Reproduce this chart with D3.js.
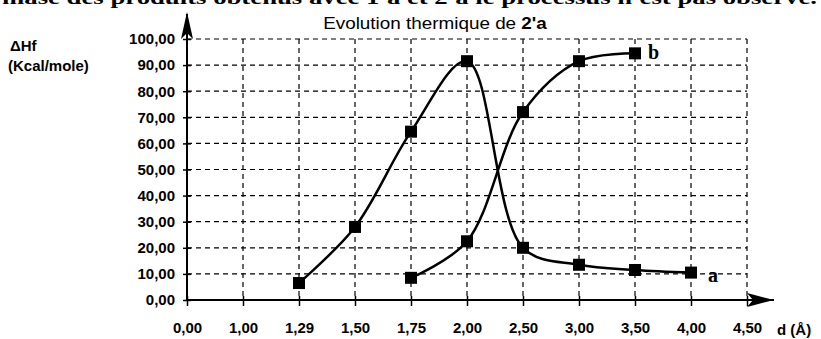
<!DOCTYPE html>
<html>
<head>
<meta charset="utf-8">
<script src="https://cdn.jsdelivr.net/npm/d3@7"></script>
<style>
body { margin: 0; background: #fff; }
svg text { font-family: "Liberation Sans", Arial, sans-serif; }
.tick-label { font-weight: bold; font-size: 15px; }
</style>
</head>
<body>
<div id="chart"></div>
<script>
// chart data
var categories = ["0,00", "1,00", "1,29", "1,50", "1,75", "2,00", "2,50", "3,00", "3,50", "4,00", "4,50"];
var yTicks = [0, 10, 20, 30, 40, 50, 60, 70, 80, 90, 100];
var seriesAx = ["1,29", "1,50", "1,75", "2,00", "2,50", "3,00", "3,50", "4,00"];
var seriesAy = [6.5, 28, 64.5, 91.5, 20, 13.5, 11.5, 10.5];
var seriesBx = ["1,75", "2,00", "2,50", "3,00", "3,50"];
var seriesBy = [8.5, 22.5, 72, 91.5, 94.5];

var svgWidth = 821;
var svgHeight = 339;
var margin = { left: 187, top: 39, right: 74, bottom: 39 };
var width = svgWidth - margin.left - margin.right;
var height = svgHeight - margin.top - margin.bottom;

var svg = d3.select("#chart").append("svg")
    .attr("width", svgWidth)
    .attr("height", svgHeight);

// cut off line of the page above the chart
svg.append("text")
    .attr("x", 2).attr("y", 4)
    .style("font-family", "'Liberation Serif', serif")
    .attr("font-weight", "bold")
    .attr("font-size", 18)
    .attr("textLength", 815)
    .attr("lengthAdjust", "spacingAndGlyphs")
    .text("mase des produits obtenus avec 1'a et 2'a le processus n'est pas observé.");

var g = svg.append("g").attr("transform", `translate(${margin.left}, ${margin.top})`);

var x = d3.scalePoint().domain(categories).range([0, width]);
var y = d3.scaleLinear().domain([0, 100]).range([height, 0]);

// grid
g.selectAll(".hgrid").data(yTicks.slice(1)).enter().append("line")
    .attr("x1", 0).attr("x2", width)
    .attr("y1", d => y(d)).attr("y2", d => y(d))
    .attr("stroke", "#000").attr("stroke-width", 1.2)
    .attr("stroke-dasharray", "5,4");

g.selectAll(".vgrid").data(categories.slice(1)).enter().append("line")
    .attr("x1", d => x(d)).attr("x2", d => x(d))
    .attr("y1", 0).attr("y2", height)
    .attr("stroke", "#000").attr("stroke-width", 1.2)
    .attr("stroke-dasharray", "5,4");

// axes with arrows
g.append("line")
    .attr("x1", 0).attr("y1", height).attr("x2", width + 27).attr("y2", height)
    .attr("stroke", "#000").attr("stroke-width", 2);
g.append("path")
    .attr("d", `M${width + 27},${height} L${width},${height - 7} L${width + 6},${height} L${width},${height + 7} Z`)
    .attr("fill", "#000");

g.append("line")
    .attr("x1", 0).attr("y1", height).attr("x2", 0).attr("y2", -25)
    .attr("stroke", "#000").attr("stroke-width", 2);
g.append("path")
    .attr("d", `M0,-27 L-6,0 L0,-6 L6,0 Z`)
    .attr("fill", "#000");

// ticks
var yAxis = d3.axisLeft(y).tickValues(yTicks).tickSize(0).tickPadding(12)
    .tickFormat(d => d3.format(".2f")(d).replace(".", ","));
var yg = g.append("g").call(yAxis);
yg.select(".domain").remove();
yg.selectAll("text").attr("class", "tick-label").attr("fill", "#000");
yg.selectAll(".tick").append("line").attr("x1", -4).attr("x2", 4).attr("stroke", "#000").attr("stroke-width", 1.5);

var xAxis = d3.axisBottom(x).tickSize(0).tickPadding(22);
var xg = g.append("g").attr("transform", `translate(0, ${height})`).call(xAxis);
xg.select(".domain").remove();
xg.selectAll("text").attr("class", "tick-label").attr("fill", "#000");
xg.selectAll(".tick").append("line").attr("y1", -4).attr("y2", 6).attr("stroke", "#000").attr("stroke-width", 1.5);

// series
var line = d3.line()
    .x(d => x(d[0])).y(d => y(d[1]))
    .curve(d3.curveCatmullRom.alpha(0.5));

var dataA = d3.zip(seriesAx, seriesAy);
var dataB = d3.zip(seriesBx, seriesBy);

[dataA, dataB].forEach(function(data) {
    g.append("path").datum(data)
        .attr("d", line)
        .attr("fill", "none").attr("stroke", "#000").attr("stroke-width", 2.5);
    g.selectAll(null).data(data).enter().append("rect")
        .attr("x", d => x(d[0]) - 6).attr("y", d => y(d[1]) - 6)
        .attr("width", 12).attr("height", 12)
        .attr("fill", "#000");
});

// series labels
g.append("text")
    .attr("x", x("3,50") + 13).attr("y", y(seriesBy[4]) + 6)
    .style("font-family", "'Liberation Serif', serif")
    .attr("font-weight", "bold").attr("font-size", 20)
    .text("b");
g.append("text")
    .attr("x", x("4,00") + 17).attr("y", y(seriesAy[7]) + 9)
    .style("font-family", "'Liberation Serif', serif")
    .attr("font-weight", "bold").attr("font-size", 20)
    .text("a");

// title
var title = svg.append("text")
    .attr("transform", "translate(435, 29) scale(1.18, 1)")
    .attr("text-anchor", "middle")
    .attr("font-size", 16);
title.append("tspan").text("Evolution thermique de ");
title.append("tspan").attr("font-weight", "bold").text("2'a");

// axis titles
svg.append("text").attr("x", 10).attr("y", 51)
    .attr("font-weight", "bold").attr("font-size", 15).text("ΔHf");
svg.append("text").attr("x", 8).attr("y", 71)
    .attr("font-weight", "bold").attr("font-size", 15).text("(Kcal/mole)");
svg.append("text").attr("x", 777).attr("y", 335)
    .attr("font-weight", "bold").attr("font-size", 15).text("d (Å)");
</script>
</body>
</html>
